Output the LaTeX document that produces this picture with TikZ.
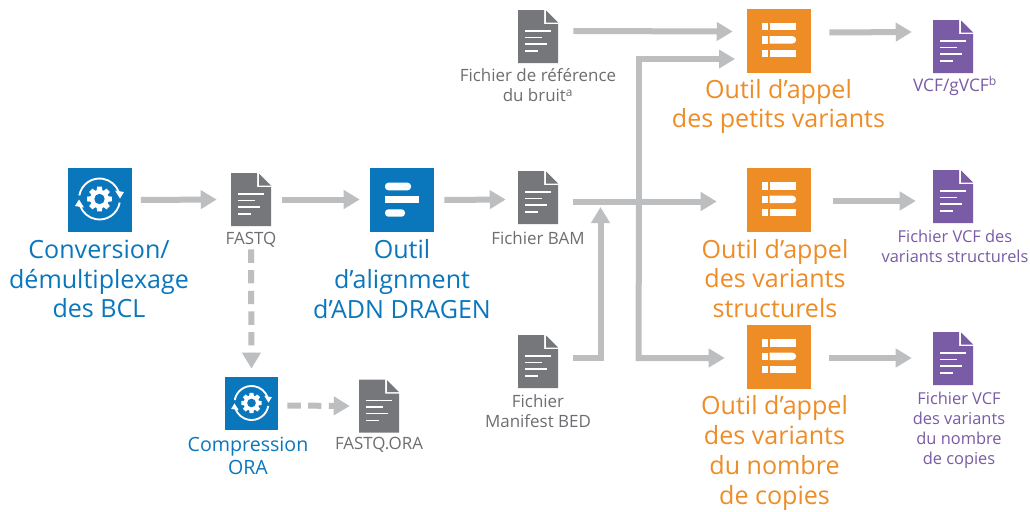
\documentclass[tikz,border=0pt]{standalone}
\usepackage{fontspec}
\setmainfont{Open Sans}
\usetikzlibrary{arrows.meta,calc}
\definecolor{cblue}{HTML}{0A77BD}
\definecolor{corange}{HTML}{EE8C26}
\definecolor{cpurple}{HTML}{7A5BA6}
\definecolor{cdoc}{HTML}{76777A}
\definecolor{ctext}{HTML}{6D6E71}
\definecolor{carrow}{HTML}{BDBEC0}
\tikzset{
  flow/.style={draw=carrow,line width=4.5pt,-{Triangle[length=12pt,width=13.5pt,color=carrow]},line join=miter},
  plain/.style={draw=carrow,line width=4.5pt,line join=miter},
  dashflow/.style={flow,dash pattern=on 10pt off 5.5pt},
  bigtxt/.style={align=center,inner sep=0pt,font=\fontsize{18.8pt}{22.4pt}\selectfont},
  smalltxt/.style={align=center,inner sep=0pt,text=ctext,font=\fontsize{12.7pt}{15pt}\selectfont},
  tooltxt/.style={align=center,inner sep=0pt,text=cblue,font=\fontsize{14.7pt}{17.2pt}\selectfont},
  purpletxt/.style={align=center,inner sep=0pt,text=cpurple,font=\fontsize{12.3pt}{15pt}\selectfont},
  box/.style={minimum size=48pt,inner sep=0pt,draw=none,fill=#1},
  boxs/.style={minimum size=40pt,inner sep=0pt,draw=none,fill=#1},
  docbox/.style={minimum width=30pt,minimum height=40pt,inner sep=0pt,draw=none},
}
% doc icon: name, left, top, colour
\newcommand{\docicon}[4]{%
  \node[docbox] (#1) at (#2+20,#3+26.5) {};
  \begin{scope}[shift={(#2,#3)}]
    \fill[#4] (0,0) -- (26,0) -- (26,14) -- (40,14) -- (40,53) -- (0,53) -- cycle;
    \fill[#4] (28,0.5) -- (40,12.5) -- (28,12.5) -- cycle;
    \draw[white,line width=1.1pt] (7,21) -- (33,21) (7,27.5) -- (24,27.5) (7,34) -- (29,34) (7,41) -- (20,41);
  \end{scope}}
% gear icon: centre x, centre y, scale
\newcommand{\gearicon}[3]{%
  \begin{scope}[shift={(#1,#2)},scale=#3]
    \fill[white] (0,0) circle (9.3);
    \foreach \a in {0,45,...,315}{
      \fill[white,rotate=\a] (-2.9,-8) -- (-2.3,-12.3) -- (2.3,-12.3) -- (2.9,-8) -- cycle;
    }
    \fill[cblue] (0,0) circle (5.2);
    \draw[white,line width=1.4pt] (190:20.5) arc[start angle=190,end angle=340,radius=20.5];
    \draw[white,line width=1.4pt] (10:20.5) arc[start angle=10,end angle=160,radius=20.5];
    \fill[white] (15.5,-8.5) -- (24.5,-7) -- (20.5,-0.5) -- cycle;
    \fill[white] (-15.5,8.5) -- (-24.5,7) -- (-20.5,0.5) -- cycle;
  \end{scope}}
% list icon: box left, top
\newcommand{\listicon}[2]{%
  \begin{scope}[shift={(#1,#2)}]
    \fill[white] (15,14.3) rectangle (21,21.7);
    \fill[white] (22.5,14.3) rectangle (49,21.7);
    \fill[white] (15,27.7) rectangle (21,35);
    \fill[white] (22.5,27.7) -- (45.5,27.7) arc[start angle=-90,end angle=90,radius=3.65] -- (22.5,35) -- cycle;
    \fill[white] (15,41) rectangle (21,48.3);
    \fill[white] (22.5,41) rectangle (49,48.3);
  \end{scope}}
\begin{document}
\begin{tikzpicture}[x=0.75pt,y=-0.75pt]
\useasboundingbox (0,0) rectangle (1030,511);
\fill[white] (0,0) rectangle (1030,511);

% tool boxes
\node[box=cblue] (bcl) at (99.5,199.5) {};
\gearicon{99.5}{199}{1}
\node[box=cblue] (align) at (402,200) {};
\begin{scope}[shift={(370,168)}]
  \fill[white,rounded corners=2.5pt] (15,14.7) rectangle (41,22.3);
  \fill[white] (15,28) rectangle (49,35.3);
  \fill[white,rounded corners=2.5pt] (15,41.3) rectangle (35,48.7);
\end{scope}
\node[boxs=cblue] (ora) at (251.5,403.5) {};
\gearicon{251.5}{403}{0.83}
\node[box=corange] (small) at (779,40.5) {};
\listicon{747}{8.5}
\node[box=corange] (struct) at (779,200) {};
\listicon{747}{168}
\node[box=corange] (copy) at (779,357) {};
\listicon{747}{325}

% documents
\docicon{fastq}{231}{173}{cdoc}
\docicon{ref}{518}{10}{cdoc}
\docicon{bam}{518}{171}{cdoc}
\docicon{bed}{518}{335}{cdoc}
\docicon{orafile}{359}{379.5}{cdoc}
\docicon{vcfa}{933}{20}{cpurple}
\docicon{vcfb}{933}{170}{cpurple}
\docicon{vcfc}{933}{332}{cpurple}

% helper coordinates
\coordinate (jbam) at (639,201.5);
\coordinate (insmall) at (735,59);
\coordinate (jcopy) at (638.5,358);
\coordinate (inbam) at (600.5,207);

% connectors
\draw[flow] ($(bcl.east)+(9,0.5)$) -- ($(fastq.west)+(-14,0)$);
\draw[flow] ($(fastq.east)+(11,0)$) -- ($(align.west)+(-10,-0.5)$);
\draw[flow] ($(align.east)+(10,0)$) -- ($(bam.west)+(-12,2)$);
\draw[dashflow] ($(fastq.south)+(0,23)$) -- ($(ora.north)+(0,-8)$);
\draw[dashflow] ($(ora.east)+(9,2)$) -- ($(orafile.west)+(-9,0)$);
\draw[flow] ($(ref.east)+(15,-5.5)$) -- ($(small.west)+(-14,-9)$);
\draw[flow] ($(bam.east)+(15,4)$) -- ($(struct.west)+(-30,1.5)$);
\draw[flow] (jbam) |- (insmall);
\draw[flow] (jbam) -- (jcopy) -- ($(copy.west)+(-22,1)$);
\draw[flow] ($(bed.east)+(15,-3.5)$) -| (inbam);
\draw[flow] ($(small.east)+(18,-8)$) -- ($(vcfa.west)+(-21,-14.5)$);
\draw[flow] ($(struct.east)+(22,1)$) -- ($(vcfb.west)+(-17,4.5)$);
\draw[flow] ($(copy.east)+(18,1)$) -- ($(vcfc.west)+(-21,-0.5)$);

% labels
\node[bigtxt,text=cblue] (tbcl) at (99,279) {Conversion/\\démultiplexage\\des BCL};
\node[bigtxt,text=cblue] (talign) at (402,279) {Outil\\d’alignment\\d’ADN DRAGEN};
\node[tooltxt] (tora) at (248,455.5) {Compression\\ORA};
\node[smalltxt] (tfastq) at (251,240) {FASTQ};
\node[smalltxt] (tref) at (538,85.5) {Fichier de référence\\du bruit\textsuperscript{a}};
\node[smalltxt] (tbam) at (538,238) {Fichier BAM};
\node[smalltxt] (tbed) at (538,411) {Fichier\\Manifest BED};
\node[smalltxt] (torafile) at (379,445) {FASTQ.ORA};
\node[bigtxt,text=corange] (tsmall) at (778.5,106.5) {Outil d’appel\\des petits variants};
\node[bigtxt,text=corange] (tstruct) at (775,278.5) {Outil d’appel\\des variants\\structurels};
\node[bigtxt,text=corange] (tcopy) at (774.5,453) {Outil d’appel\\des variants\\du nombre\\de copies};
\node[purpletxt,font=\fontsize{13pt}{15pt}\selectfont] (tvcfa) at (955,86) {VCF/gVCF\textsuperscript{b}};
\node[purpletxt] (tvcfb) at (955,246) {Fichier VCF des\\variants structurels};
\node[purpletxt] (tvcfc) at (959,430) {Fichier VCF\\des variants\\du nombre\\de copies};
\end{tikzpicture}
\end{document}
